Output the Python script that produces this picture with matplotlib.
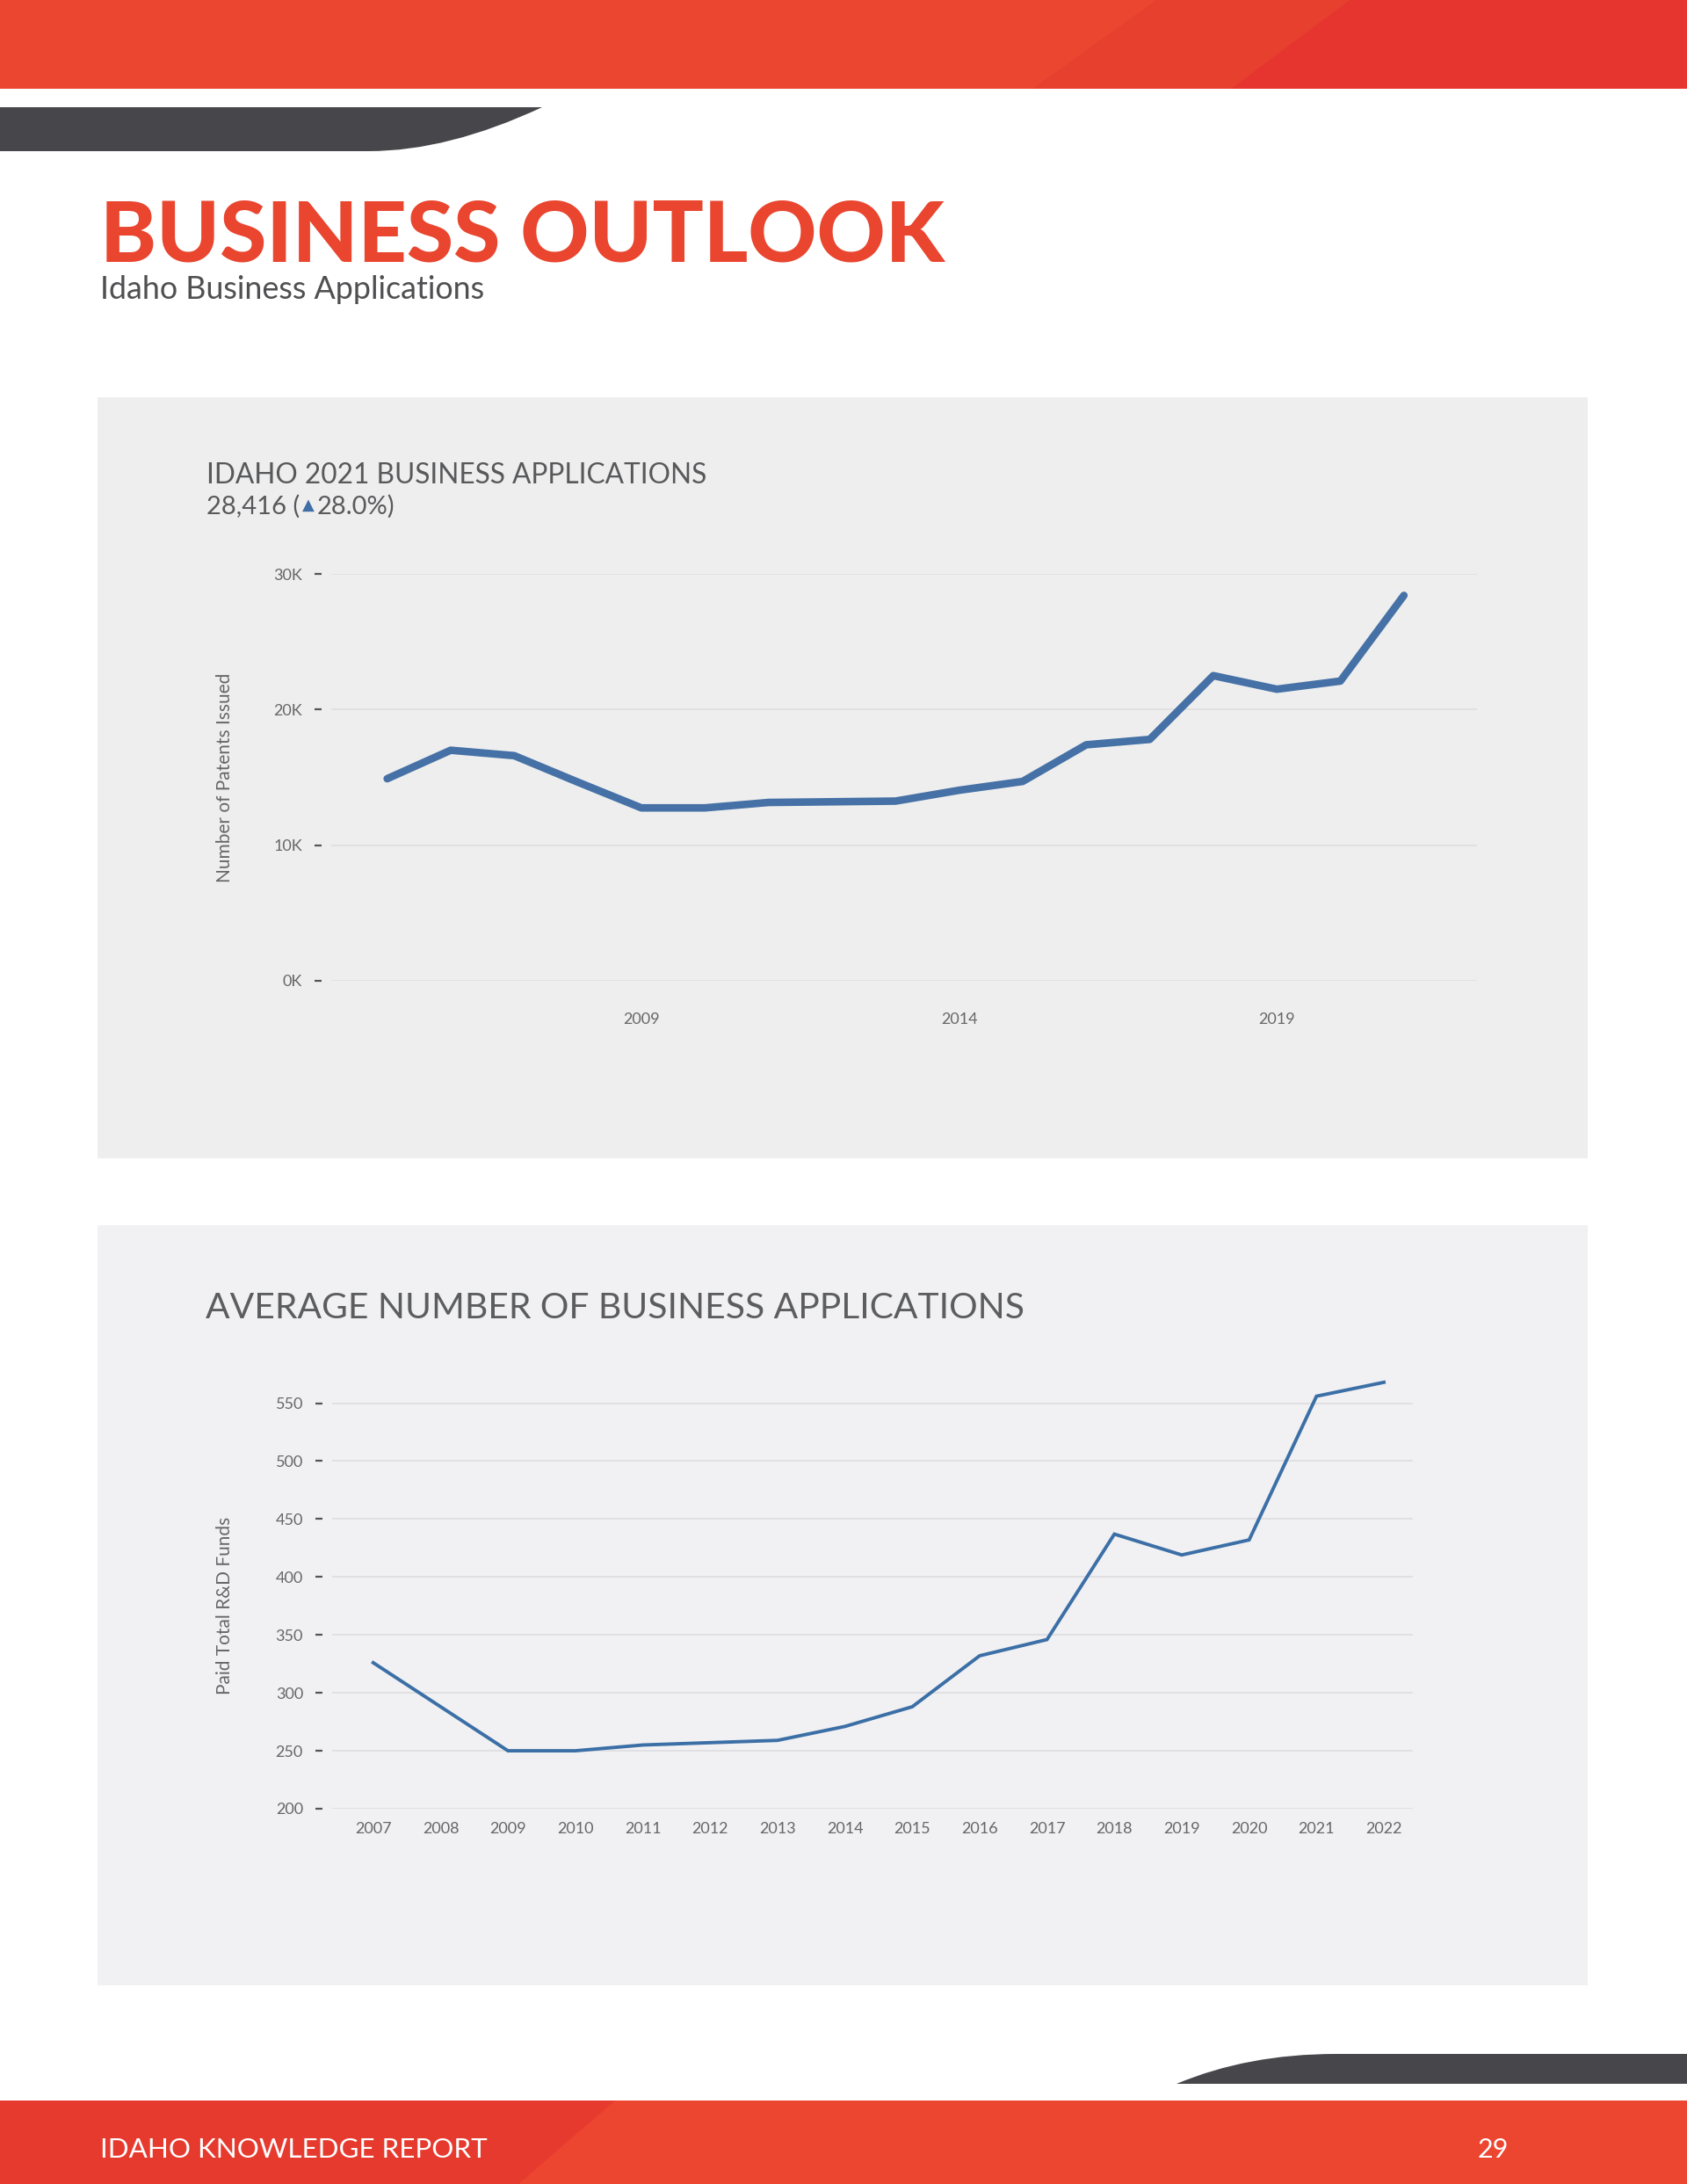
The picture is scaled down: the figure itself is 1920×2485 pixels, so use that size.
import matplotlib
matplotlib.use("Agg")
import matplotlib.pyplot as plt
from matplotlib.patches import Rectangle, Polygon, PathPatch
from matplotlib.path import Path

plt.rcParams['font.family'] = ['Lato', 'DejaVu Sans']

years_top = [2005, 2006, 2007, 2008, 2009, 2010, 2011, 2012, 2013,
             2014, 2015, 2016, 2017, 2018, 2019, 2020, 2021]
apps_top = [14900, 17000, 16600, 14650, 12750, 12750, 13150, 13200, 13250,
            14050, 14700, 17400, 17800, 22500, 21500, 22100, 28416]
top_yticks = [0, 10000, 20000, 30000]
top_ylabels = ["0K", "10K", "20K", "30K"]
top_xticks = [2009, 2014, 2019]

years_avg = [2007, 2008, 2009, 2010, 2011, 2012, 2013, 2014,
             2015, 2016, 2017, 2018, 2019, 2020, 2021, 2022]
avg_apps = [326, 288, 250, 250, 255, 257, 259, 271,
            288, 332, 346, 437, 419, 432, 556, 568]
avg_yticks = [200, 250, 300, 350, 400, 450, 500, 550]

W, H = 1920, 2485
RED = "#e9452f"
GRAY_TXT = "#58595b"
TICK_TXT = "#666666"
GRID = "#dcdce0"

fig = plt.figure(figsize=(W / 100, H / 100), dpi=100)
fig.patch.set_facecolor("white")

# background layer in pixel coordinates
bg = fig.add_axes([0, 0, 1, 1])
bg.set_xlim(0, W)
bg.set_ylim(H, 0)
bg.axis("off")

# top red band
bg.add_patch(Rectangle((0, 0), W, 101, color="#eb4730", lw=0))
bg.add_patch(Polygon([(1316, 0), (W, 0), (W, 101), (1175, 101)], color="#e8402f", lw=0))
bg.add_patch(Polygon([(1536, 0), (W, 0), (W, 101), (1401, 101)], color="#e6352f", lw=0))

# dark tab under the band
tab = Path([(0, 122), (617, 122), (510, 172), (420, 172), (0, 172), (0, 122)],
           [Path.MOVETO, Path.LINETO, Path.CURVE3, Path.CURVE3, Path.LINETO, Path.CLOSEPOLY])
bg.add_patch(PathPatch(tab, color="#47464a", lw=0))

# bottom dark tab
tab2 = Path([(W, 2337), (1520, 2337), (1420, 2337), (1339, 2371), (W, 2371), (W, 2337)],
            [Path.MOVETO, Path.LINETO, Path.CURVE3, Path.CURVE3, Path.LINETO, Path.CLOSEPOLY])
bg.add_patch(PathPatch(tab2, color="#47464a", lw=0))

# bottom red band
bg.add_patch(Rectangle((0, 2390), W, 95, color="#ec4530", lw=0))
bg.add_patch(Polygon([(0, 2390), (700, 2390), (590, 2485), (0, 2485)], color="#e73a2f", lw=0))

# chart panels
bg.add_patch(Rectangle((111, 452), 1696, 866, color="#efeeee", lw=0))
bg.add_patch(Rectangle((111, 1394), 1696, 865, color="#f1f1f3", lw=0))

renderer = fig.canvas.get_renderer()


def fit_text(t, width):
    # scale font size so the text spans the given pixel width
    bb = t.get_window_extent(renderer)
    t.set_fontsize(t.get_fontsize() * width / bb.width)
    return t


fit_text(bg.text(114, 297, "BUSINESS OUTLOOK", fontsize=68, fontweight="black",
                 color=RED, va="baseline"), 960)
fit_text(bg.text(114, 340, "Idaho Business Applications", fontsize=23, fontweight="normal",
                 color="#505052", va="baseline"), 438)

# chart 1 headings
fit_text(bg.text(235, 550, "IDAHO 2021 BUSINESS APPLICATIONS", fontsize=22,
                 color=GRAY_TXT, va="baseline"), 566)
t_a = bg.text(235, 585, "28,416 (", fontsize=21, color=GRAY_TXT, va="baseline")
x_next = t_a.get_window_extent(renderer).x1 + 3
t_b = bg.text(x_next, 580, "\u25B2", fontsize=13, color="#3f6fa6", va="baseline",
              family=["DejaVu Sans"])
x_next = t_b.get_window_extent(renderer).x1 + 3
bg.text(x_next, 585, "28.0%)", fontsize=21, color=GRAY_TXT, va="baseline")

fit_text(bg.text(234, 1500, "AVERAGE NUMBER OF BUSINESS APPLICATIONS", fontsize=30,
                 fontweight="normal", color="#5c5d5f", va="baseline"), 928)

bg.text(256, 885, "Number of Patents Issued", rotation=90, ha="center", va="center",
        fontsize=15, color=TICK_TXT)
bg.text(256, 1827, "Paid Total R&D Funds", rotation=90, ha="center", va="center",
        fontsize=15, color=TICK_TXT)

# footer
fit_text(bg.text(114, 2455, "IDAHO KNOWLEDGE REPORT", fontsize=22, fontweight="normal",
                 color="white", va="baseline"), 438)
bg.text(1717, 2455, "29", fontsize=22, fontweight="normal", color="white",
        va="baseline", ha="right")


def px_axes(l, t, r, b):
    return fig.add_axes([l / W, 1 - b / H, (r - l) / W, (b - t) / H])


def style(ax, xpad):
    ax.set_facecolor("none")
    for s in ax.spines.values():
        s.set_visible(False)
    ax.spines["left"].set_position(("outward", 8))
    ax.grid(axis="y", color=GRID, lw=1.1)
    ax.set_axisbelow(True)
    ax.tick_params(axis="y", length=5.8, width=1.6, color="#555555", pad=10,
                   labelsize=13, labelcolor=TICK_TXT)
    ax.tick_params(axis="x", length=0, pad=xpad, labelsize=13, labelcolor=TICK_TXT)


# chart 1
ax1 = px_axes(377, 653, 1681, 1116)
ax1.plot(years_top, apps_top, color="#4571a6", lw=6.2,
         solid_capstyle="round", solid_joinstyle="round")
ax1.set_xlim(2004.12, 2022.15)
ax1.set_ylim(0, 30000)
ax1.set_yticks(top_yticks, top_ylabels)
ax1.set_xticks(top_xticks, [str(y) for y in top_xticks])
style(ax1, 26)

# chart 2
ax2 = px_axes(378, 1557, 1608, 2058)
ax2.plot(years_avg, avg_apps, color="#3b6fa6", lw=2.8, solid_joinstyle="miter")
ax2.set_xlim(2006.39, 2022.43)
ax2.set_ylim(200, 580)
ax2.set_yticks(avg_yticks, [str(v) for v in avg_yticks])
ax2.set_xticks(years_avg, [str(y) for y in years_avg])
style(ax2, 10.5)

fig.savefig("out.png", dpi=100)
